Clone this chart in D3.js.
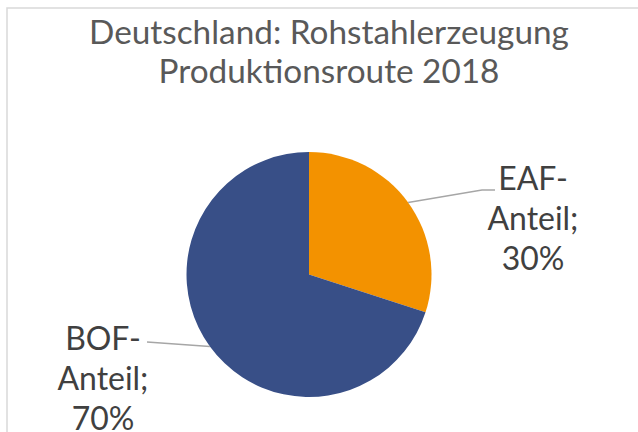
<!DOCTYPE html>
<html>
<head>
<meta charset="utf-8">
<script src="https://cdn.jsdelivr.net/npm/d3@7"></script>
<style>
  body { margin: 0; background: #fff; }
  text { font-family: Lato, "Open Sans", sans-serif; }
</style>
</head>
<body>
<svg width="638" height="432"></svg>
<script>
// Daten
const titleLines = ["Deutschland: Rohstahlerzeugung", "Produktionsroute 2018"];
const categories = ["EAF-Anteil", "BOF-Anteil"];
const values = [30, 70];
const colors = ["#F39200", "#384F87"];

const svg = d3.select("svg");
const cx = 309, cy = 274.5, r = 122.5;

// Rahmen
svg.append("rect")
  .attr("x", 7).attr("y", 8)
  .attr("width", 700).attr("height", 500)
  .attr("fill", "none")
  .attr("stroke", "#d9d9d9")
  .attr("stroke-width", 1.5);

// Titel
const title = svg.append("g");
title.selectAll("text")
  .data(titleLines)
  .enter()
  .append("text")
  .attr("x", 329)
  .attr("y", (d, i) => 44 + i * 39)
  .attr("text-anchor", "middle")
  .attr("fill", "#595959")
  .attr("font-size", 27)
  .text((d) => d);

// Schriftgröße an Zielbreite anpassen
function fit(sel, node, target) {
  const w = node.getComputedTextLength();
  const fs = parseFloat(sel.attr("font-size"));
  sel.attr("font-size", fs * target / w);
}
fit(title.selectAll("text"), title.select("text").node(), 480);

const pie = d3.pie().sort(null).value((d) => d);
const arcs = pie(values);
const arc = d3.arc().innerRadius(0).outerRadius(r);

const g = svg.append("g").attr("transform", `translate(${cx},${cy})`);
g.selectAll("path")
  .data(arcs)
  .enter()
  .append("path")
  .attr("d", arc)
  .attr("fill", (d, i) => colors[i]);

// Beschriftungen
const labelPos = [
  { x: 533, y: 190, line: [[482, 190], [495, 190]] },
  { x: 103, y: 350, line: [[147, 342]] },
];

const edge = (d) => {
  const a = (d.startAngle + d.endAngle) / 2;
  return [cx + r * Math.sin(a), cy - r * Math.cos(a)];
};

svg.selectAll(".leader")
  .data(arcs)
  .enter()
  .append("polyline")
  .attr("class", "leader")
  .attr("points", (d, i) => [edge(d), ...labelPos[i].line].map((p) => p.join(",")).join(" "))
  .attr("fill", "none")
  .attr("stroke", "#a6a6a6")
  .attr("stroke-width", 1.3);

const labels = svg.selectAll(".label")
  .data(arcs)
  .enter()
  .append("text")
  .attr("class", "label")
  .attr("text-anchor", "middle")
  .attr("fill", "#404040")
  .attr("font-size", 29);

labels.each(function (d, i) {
  const parts = [categories[i].split("-")[0] + "-", categories[i].split("-")[1] + ";", values[i] + "%"];
  d3.select(this).selectAll("tspan")
    .data(parts)
    .enter()
    .append("tspan")
    .attr("x", labelPos[i].x)
    .attr("y", (p, j) => labelPos[i].y + j * 40)
    .text((p) => p);
});

const probe = labels.filter((d, i) => i === 0).selectAll("tspan").nodes()[1];
const pw = probe.getComputedTextLength();
labels.attr("font-size", 29 * 91 / pw);
</script>
</body>
</html>
